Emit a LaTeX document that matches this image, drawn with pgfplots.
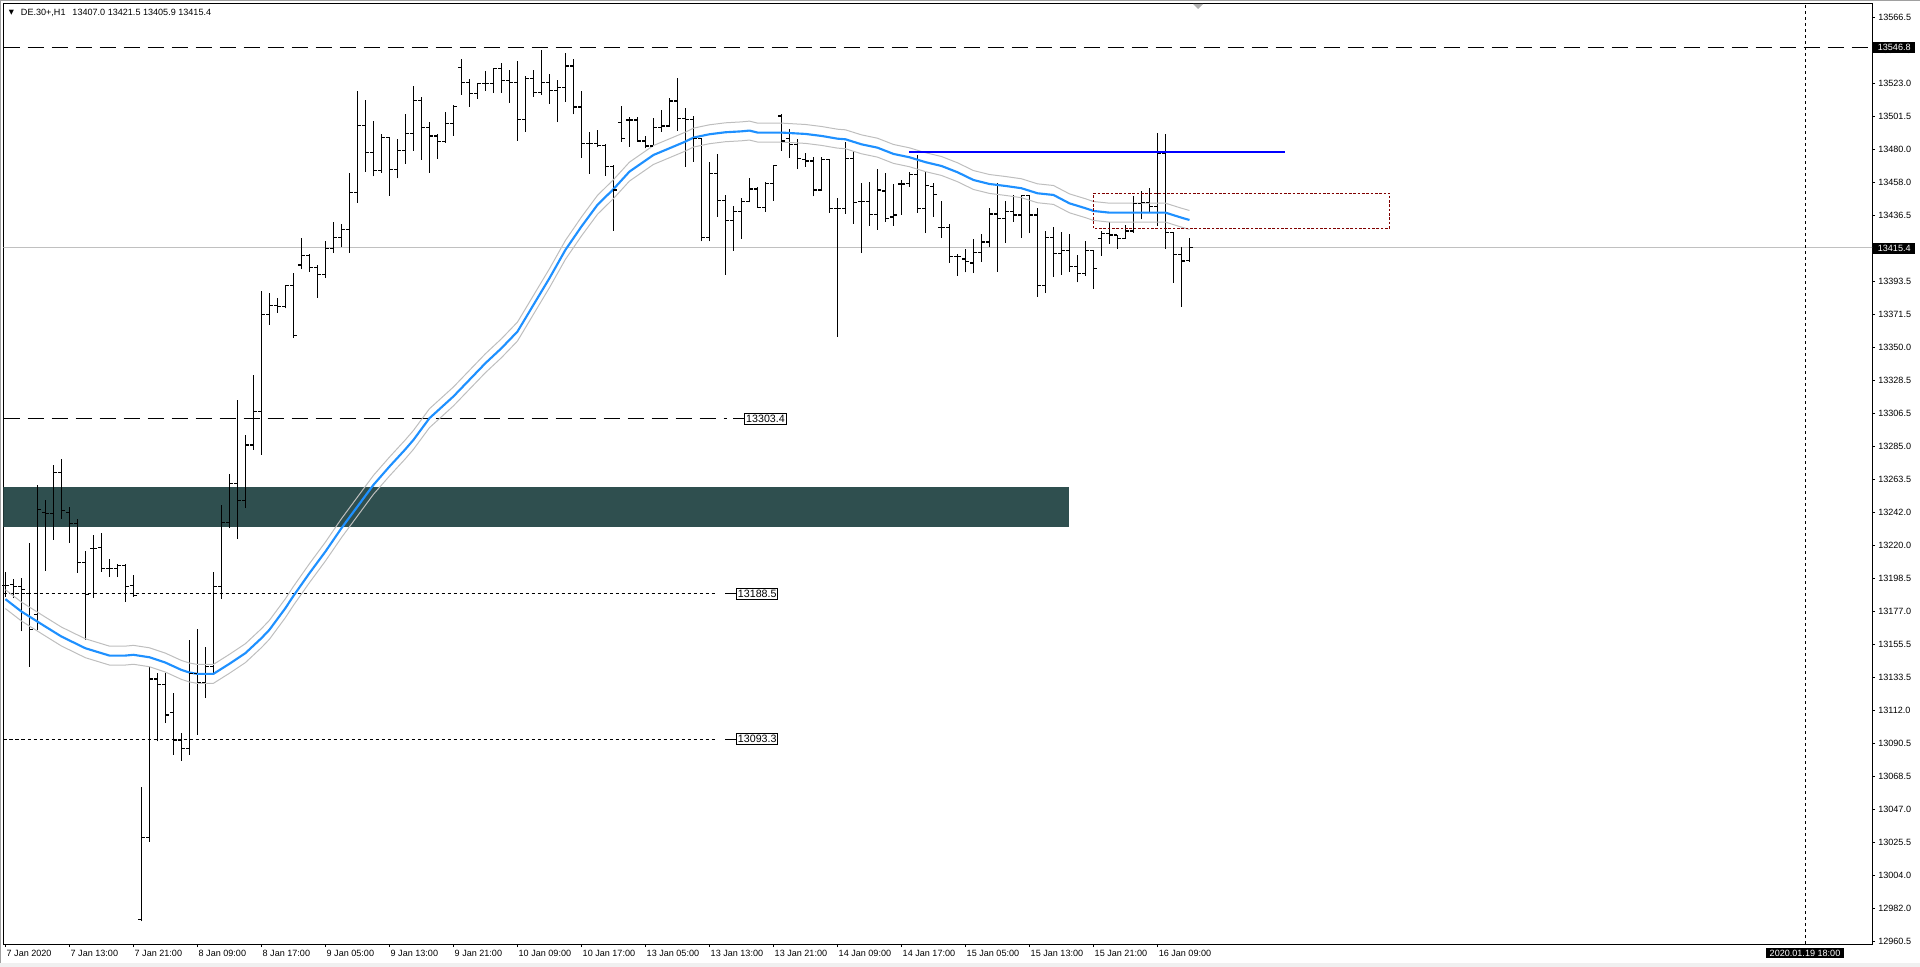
\documentclass[border=0pt]{standalone}
\usepackage{fontspec}
\setmainfont{Liberation Sans}
\newfontfamily\dejavu{DejaVu Sans}
\usepackage{pgfplots}
\pgfplotsset{compat=1.18}
\usepackage{pgfplotstable}

\definecolor{zone}{RGB}{47,79,79}
\definecolor{maclr}{RGB}{30,144,255}
\definecolor{envclr}{RGB}{190,190,190}
\definecolor{silverc}{RGB}{192,192,192}
\definecolor{maroonc}{RGB}{128,0,0}
\definecolor{frameg}{RGB}{160,160,160}
\definecolor{bandg}{RGB}{240,240,240}

\pgfdeclareplotmark{otick}{\pgfpathmoveto{\pgfqpoint{-2.4pt}{0pt}}\pgfpathlineto{\pgfqpoint{0pt}{0pt}}\pgfusepathqstroke}
\pgfdeclareplotmark{ctick}{\pgfpathmoveto{\pgfqpoint{0pt}{0pt}}\pgfpathlineto{\pgfqpoint{2.4pt}{0pt}}\pgfusepathqstroke}
\pgfdeclareplotmark{nomark}{}

\pgfplotstableread{
i o h l c
0 13193.9 13203.1 13186.7 13193.9
1 13194.4 13198.1 13185.6 13193.3
2 13193.3 13198.7 13163.8 13191.5
3 13188.5 13221.7 13140.8 13164.9
4 13174.7 13259.9 13164.9 13244.0
5 13241.8 13250.1 13203.7 13241.3
6 13241.3 13273.0 13223.8 13268.2
7 13268.2 13276.9 13237.6 13242.9
8 13241.8 13245.7 13222.1 13234.8
9 13234.8 13237.6 13202.4 13209.2
10 13209.2 13216.6 13158.3 13187.8
11 13218.4 13227.1 13185.6 13218.4
12 13218.8 13228.2 13203.1 13205.3
13 13205.3 13211.4 13199.4 13205.3
14 13205.3 13207.9 13199.4 13207.0
15 13207.0 13207.9 13183.4 13193.3
16 13193.9 13200.9 13186.7 13187.4
17 12974.8 13061.7 12973.7 13028.9
18 13028.9 13140.8 13026.1 13132.7
19 13132.7 13136.4 13091.7 13128.8
20 13128.8 13136.4 13103.7 13109.1
21 13110.9 13123.3 13082.9 13092.7
22 13092.7 13097.1 13079.2 13087.3
23 13087.3 13158.3 13082.9 13136.4
24 13136.4 13165.3 13096.0 13130.3
25 13130.3 13153.5 13120.1 13140.8
26 13140.8 13202.9 13136.4 13193.3
27 13193.3 13246.8 13185.0 13235.2
28 13235.2 13267.1 13231.5 13261.0
29 13261.0 13315.7 13224.3 13249.6
30 13249.6 13292.7 13244.6 13286.1
31 13286.1 13332.0 13282.8 13308.0
32 13308.0 13386.7 13279.6 13371.4
33 13371.4 13385.6 13364.8 13377.7
34 13377.7 13382.3 13372.9 13376.8
35 13376.8 13391.0 13375.7 13390.4
36 13390.4 13398.7 13356.1 13358.1
37 13404.1 13421.6 13401.3 13410.1
38 13410.1 13411.4 13399.8 13402.6
39 13402.6 13404.1 13382.7 13397.6
40 13397.6 13420.1 13395.4 13415.1
41 13415.1 13432.1 13411.8 13422.1
42 13422.1 13431.0 13415.7 13427.1
43 13427.1 13464.2 13412.2 13451.8
44 13451.8 13518.2 13445.0 13495.7
45 13495.7 13512.3 13465.3 13477.8
46 13477.8 13498.5 13462.1 13466.2
47 13466.2 13490.0 13464.7 13487.6
48 13487.6 13488.3 13449.6 13466.9
49 13466.9 13486.7 13460.8 13478.9
50 13478.9 13503.1 13470.4 13490.5
51 13490.5 13521.5 13479.1 13511.7
52 13511.7 13514.3 13473.2 13494.4
53 13494.4 13497.9 13464.7 13488.7
54 13488.7 13489.8 13473.6 13485.0
55 13485.0 13504.4 13484.3 13496.8
56 13496.8 13508.8 13488.7 13508.2
57 13533.7 13539.2 13515.6 13523.9
58 13523.9 13526.1 13507.9 13516.7
59 13516.7 13523.5 13513.0 13523.0
60 13523.0 13531.3 13518.4 13523.2
61 13523.2 13533.5 13516.7 13533.1
62 13533.1 13536.6 13516.9 13524.8
63 13524.8 13531.8 13510.6 13523.9
64 13523.9 13537.9 13485.4 13499.6
65 13499.6 13527.8 13491.6 13526.3
66 13526.3 13532.0 13514.5 13517.1
67 13517.1 13545.1 13515.4 13523.9
68 13523.9 13529.1 13509.7 13518.7
69 13518.7 13525.4 13497.7 13520.6
70 13520.6 13543.1 13511.2 13534.6
71 13534.6 13539.0 13502.9 13507.7
72 13507.7 13518.2 13474.5 13483.9
73 13483.9 13491.3 13463.8 13483.9
74 13483.9 13492.7 13481.3 13482.2
75 13482.2 13483.5 13462.7 13468.8
76 13468.8 13469.7 13426.4 13453.3
77 13497.7 13508.2 13484.8 13487.2
78 13499.2 13500.9 13481.7 13499.2
79 13499.2 13500.9 13485.4 13485.4
80 13485.4 13488.7 13480.6 13482.1
81 13482.1 13500.3 13482.1 13494.4
82 13494.4 13505.7 13491.5 13495.2
83 13495.2 13513.8 13494.8 13511.6
84 13511.6 13526.5 13491.9 13500.0
85 13500.0 13506.8 13468.6 13499.6
86 13499.6 13501.6 13471.9 13486.9
87 13486.9 13487.2 13419.6 13422.2
88 13422.2 13471.4 13419.6 13464.2
89 13464.2 13476.7 13435.8 13446.5
90 13446.5 13449.8 13397.8 13433.4
91 13433.4 13442.8 13413.5 13439.3
92 13439.3 13447.8 13421.2 13445.6
93 13445.6 13461.1 13445.2 13453.9
94 13453.9 13455.0 13441.9 13441.9
95 13441.9 13458.3 13439.1 13457.6
96 13457.6 13469.4 13446.1 13469.4
97 13501.8 13502.9 13479.1 13485.4
98 13487.1 13493.0 13474.3 13483.2
99 13483.2 13486.5 13467.0 13474.0
100 13473.4 13477.3 13468.6 13472.3
101 13472.3 13474.7 13449.1 13453.3
102 13453.3 13474.7 13452.8 13473.0
103 13473.0 13473.8 13438.4 13441.3
104 13441.3 13448.0 13357.1 13441.3
105 13441.3 13485.0 13437.6 13474.0
106 13474.0 13479.1 13431.2 13445.2
107 13445.8 13457.6 13411.8 13445.8
108 13445.8 13458.3 13429.9 13437.3
109 13437.3 13467.0 13427.1 13453.3
110 13452.6 13464.2 13432.5 13434.3
111 13435.6 13457.2 13429.9 13436.9
112 13457.2 13459.8 13436.9 13457.2
113 13457.6 13465.3 13455.5 13463.6
114 13463.6 13476.2 13438.4 13441.3
115 13441.3 13464.9 13424.9 13456.4
116 13455.5 13458.1 13435.8 13450.4
117 13428.6 13446.1 13422.0 13428.6
118 13428.6 13431.2 13405.6 13409.4
119 13409.4 13411.3 13397.1 13409.4
120 13408.0 13414.6 13399.3 13406.3
121 13405.4 13421.2 13398.7 13412.2
122 13412.2 13424.5 13406.3 13419.2
123 13419.2 13441.7 13415.7 13437.5
124 13437.5 13457.6 13399.7 13434.7
125 13434.7 13446.1 13418.8 13438.9
126 13438.9 13450.0 13432.5 13436.9
127 13436.9 13450.0 13422.0 13449.6
128 13449.6 13450.0 13424.9 13436.9
129 13436.9 13441.3 13383.4 13390.4
130 13390.8 13426.4 13385.6 13422.2
131 13422.2 13428.8 13396.5 13411.8
132 13411.8 13425.5 13397.6 13413.7
133 13413.7 13424.5 13399.7 13403.2
134 13403.2 13410.7 13392.7 13398.7
135 13398.7 13419.9 13396.9 13413.7
136 13413.7 13414.0 13388.2 13401.9
137 13421.2 13426.6 13410.2 13424.9
138 13424.9 13432.3 13417.9 13423.8
139 13423.8 13424.0 13414.6 13421.6
140 13421.6 13430.3 13421.4 13426.4
141 13426.4 13449.6 13425.3 13444.5
142 13444.5 13452.6 13434.0 13445.0
143 13445.0 13454.4 13439.1 13442.4
144 13442.4 13490.4 13429.9 13477.3
145 13477.3 13489.8 13414.6 13425.5
146 13425.5 13425.8 13392.6 13411.1
147 13411.1 13416.1 13376.8 13406.7
148 13407.0 13421.5 13405.9 13415.4
}\bars

\pgfplotstableread{
i ma up lo
0 13185.0 13191.2 13178.8
2 13176.9 13183.1 13170.7
3 13173.6 13179.8 13167.4
4 13170.3 13176.5 13164.1
5 13167.0 13173.2 13160.8
7 13160.5 13166.7 13154.3
10 13152.8 13159.0 13146.6
12 13149.6 13155.8 13143.4
13 13148.0 13154.2 13141.8
15 13148.0 13154.2 13141.8
16 13148.5 13154.7 13142.3
18 13146.9 13153.1 13140.7
20 13143.4 13149.6 13137.2
22 13138.6 13144.8 13132.4
23 13136.9 13143.1 13130.7
24 13136.0 13142.2 13129.8
26 13136.0 13142.2 13129.8
28 13142.6 13148.8 13136.4
30 13149.6 13155.8 13143.4
32 13159.4 13165.6 13153.2
33 13164.9 13171.1 13158.7
35 13179.1 13185.3 13172.9
36 13187.1 13193.3 13180.9
38 13202.0 13208.2 13195.8
40 13216.2 13222.4 13210.0
42 13231.5 13237.7 13225.3
44 13245.7 13251.9 13239.5
46 13259.9 13266.1 13253.7
48 13271.9 13278.1 13265.7
50 13283.3 13289.5 13277.1
51 13289.4 13295.6 13283.2
53 13303.6 13309.8 13297.4
56 13317.9 13324.1 13311.7
58 13328.8 13335.0 13322.6
60 13339.7 13345.9 13333.5
62 13349.5 13355.7 13343.3
64 13360.4 13366.6 13354.2
66 13377.9 13384.1 13371.7
68 13395.4 13401.6 13389.2
70 13414.0 13420.2 13407.8
72 13429.3 13435.5 13423.1
74 13443.5 13449.7 13437.3
76 13453.8 13460.0 13447.6
78 13465.3 13471.5 13459.1
81 13476.2 13482.4 13470.0
83 13480.6 13486.8 13474.4
85 13485.0 13491.2 13478.8
86 13487.6 13493.8 13481.4
88 13489.8 13496.0 13483.6
90 13491.1 13497.3 13484.9
92 13491.7 13497.9 13485.5
93 13492.2 13498.4 13486.0
94 13490.9 13497.1 13484.7
97 13490.9 13497.1 13484.7
100 13490.0 13496.2 13483.8
102 13488.7 13494.9 13482.5
104 13486.9 13493.1 13480.7
105 13486.5 13492.7 13480.3
107 13483.2 13489.4 13477.0
109 13481.0 13487.2 13474.8
111 13476.9 13483.1 13470.7
113 13474.7 13480.9 13468.5
115 13471.5 13477.7 13465.3
117 13469.0 13475.2 13462.8
119 13464.9 13471.1 13458.7
121 13459.8 13466.0 13453.6
123 13457.2 13463.4 13451.0
125 13455.9 13462.1 13449.7
127 13454.4 13460.6 13448.2
129 13451.1 13457.3 13444.9
131 13450.0 13456.2 13443.8
133 13444.5 13450.7 13438.3
135 13441.3 13447.5 13435.1
136 13439.5 13445.7 13433.3
138 13438.4 13444.6 13432.2
141 13438.4 13444.6 13432.2
145 13438.4 13444.6 13432.2
147 13435.1 13441.3 13428.9
148 13433.6 13439.8 13427.4
}\mavals

\begin{document}
\begin{tikzpicture}
\path[use as bounding box] (-2.625pt,-17.25pt) rectangle (1437.375pt,708pt);
\begin{axis}[
  at={(0pt,0pt)}, anchor=south west,
  scale only axis, width=1401.375pt, height=705pt,
  xmin=-0.2375, xmax=233.3125, ymin=12958.9, ymax=13575.2,
  scaled x ticks=false, scaled y ticks=false,
  axis line style={black, line width=0.75pt},
  tick style={black, line width=0.75pt},
  tick align=outside, major tick length=2.25pt,
  xtick pos=left, ytick pos=right, yticklabel pos=right,
  xtick={0,8,...,144},
  xticklabels={7 Jan 2020,7 Jan 13:00,7 Jan 21:00,8 Jan 09:00,8 Jan 17:00,9 Jan 05:00,9 Jan 13:00,9 Jan 21:00,10 Jan 09:00,10 Jan 17:00,13 Jan 05:00,13 Jan 13:00,13 Jan 21:00,14 Jan 09:00,14 Jan 17:00,15 Jan 05:00,15 Jan 13:00,15 Jan 21:00,16 Jan 09:00},
  ytick={12960.5,12982.0,13004.0,13025.5,13047.0,13068.5,13090.5,13112.0,13133.5,13155.5,13177.0,13198.5,13220.0,13242.0,13263.5,13285.0,13306.5,13328.5,13350.0,13371.5,13393.5,13415.0,13436.5,13458.0,13480.0,13501.5,13523.0,13544.5,13566.5},
  yticklabels={12960.5,12982.0,13004.0,13025.5,13047.0,13068.5,13090.5,13112.0,13133.5,13155.5,13177.0,13198.5,13220.0,13242.0,13263.5,13285.0,13306.5,13328.5,13350.0,13371.5,13393.5,13415.0,13436.5,13458.0,13480.0,13501.5,13523.0,13544.5,13566.5},
  every tick label/.append style={font=\fontsize{6.8}{8}\selectfont, text=black, inner sep=0pt},
  xticklabel style={anchor=north west, xshift=0.75pt, yshift=-2.25pt},
  yticklabel style={anchor=west, xshift=2.25pt},
  clip=true,
]
% background zone and current price line
\fill[zone] (axis cs:-1,13232.5) rectangle (axis cs:132.95,13258.4);
\draw[silverc, line width=0.75pt] (axis cs:-1,13415.4) -- (axis cs:240,13415.4);
% horizontal levels
\draw[black, line width=0.75pt, dash pattern=on 12.5pt off 5.5pt] (axis cs:-0.2375,13546.8) -- (axis cs:240,13546.8);
\draw[black, line width=0.75pt, dash pattern=on 12.5pt off 5.5pt] (axis cs:-0.2375,13303.4) -- (axis cs:90.2,13303.4);
\draw[black, line width=0.75pt] (axis cs:91.0,13303.4) -- (axis cs:92.36,13303.4);
\draw[black, line width=0.75pt, dash pattern=on 2.5pt off 2pt] (axis cs:-0.2375,13188.5) -- (axis cs:88.95,13188.5);
\draw[black, line width=0.75pt] (axis cs:90.0,13188.5) -- (axis cs:91.33,13188.5);
\draw[black, line width=0.75pt, dash pattern=on 2.5pt off 2pt] (axis cs:-0.2375,13093.3) -- (axis cs:88.95,13093.3);
\draw[black, line width=0.75pt] (axis cs:90.0,13093.3) -- (axis cs:91.33,13093.3);
% OHLC bars
\addplot[black, only marks, mark=nomark, error bars/.cd, y dir=plus, y explicit, error mark=none, error bar style={black, line width=0.9pt}] table[x=i, y=l, y error expr=\thisrow{h}-\thisrow{l}] {\bars};
\addplot[only marks, mark=otick, mark options={black, line width=0.9pt}] table[x=i, y=o] {\bars};
\addplot[only marks, mark=ctick, mark options={black, line width=0.9pt}] table[x=i, y=c] {\bars};
% moving average with envelopes
\addplot[envclr, line width=0.75pt, mark=none] table[x=i, y=up] {\mavals};
\addplot[envclr, line width=0.75pt, mark=none] table[x=i, y=lo] {\mavals};
\addplot[maclr, line width=1.6pt, mark=none] table[x=i, y=ma] {\mavals};
% drawn objects
\draw[blue, line width=1.5pt] (axis cs:113,13478.2) -- (axis cs:160,13478.2);
\draw[maroonc, line width=0.75pt, dash pattern=on 2pt off 1.25pt] (axis cs:136,13428.2) rectangle (axis cs:173.04,13451.1);
\draw[black, line width=0.75pt, dash pattern=on 2.25pt off 2.25pt] (axis cs:225,12958.9) -- (axis cs:225,13575.2);
% level labels
\node[draw=black, fill=white, line width=0.75pt, inner sep=0pt, minimum width=31pt, minimum height=8.25pt, anchor=west, font=\fontsize{8}{9}\selectfont] at (axis cs:92.36,13303.4) {13303.4};
\node[draw=black, fill=white, line width=0.75pt, inner sep=0pt, minimum width=31pt, minimum height=8.25pt, anchor=west, font=\fontsize{8}{9}\selectfont] at (axis cs:91.33,13188.5) {13188.5};
\node[draw=black, fill=white, line width=0.75pt, inner sep=0pt, minimum width=31pt, minimum height=8.25pt, anchor=west, font=\fontsize{8}{9}\selectfont] at (axis cs:91.33,13093.3) {13093.3};
\end{axis}
\begin{scope}[shift={(-2.625pt,708pt)}, x=0.75pt, y=-0.75pt]
  \draw[frameg, line width=1.1pt] (0.75,967) -- (0.75,0.75) -- (1920,0.75);
  \fill[bandg] (0,963) rectangle (1920,967);
  \node[anchor=west, inner sep=0pt, font=\dejavu\fontsize{5}{6}\selectfont] at (8.5,12.7) {▼};
  \node[anchor=west, inner sep=0pt, font=\fontsize{6.8}{8}\selectfont] at (20.7,12.7) {DE.30+,H1\hspace{5.2pt}13407.0 13421.5 13405.9 13415.4};
  \node[fill=black, text=white, inner sep=0pt, minimum width=31.3pt, minimum height=8.25pt, font=\fontsize{6.8}{8}\selectfont] at (1894.2,47.2) {13546.8};
  \node[fill=black, text=white, inner sep=0pt, minimum width=31.3pt, minimum height=8.25pt, font=\fontsize{6.8}{8}\selectfont] at (1894.2,248.3) {13415.4};
  \node[fill=black, text=white, inner sep=0pt, minimum width=59pt, minimum height=7.7pt, font=\fontsize{6.8}{8}\selectfont] at (1805,953.2) {2020.01.19 18:00};
  \fill[gray!60] (1193,4) -- (1203,4) -- (1198,9) -- cycle;
\end{scope}
\end{tikzpicture}
\end{document}
